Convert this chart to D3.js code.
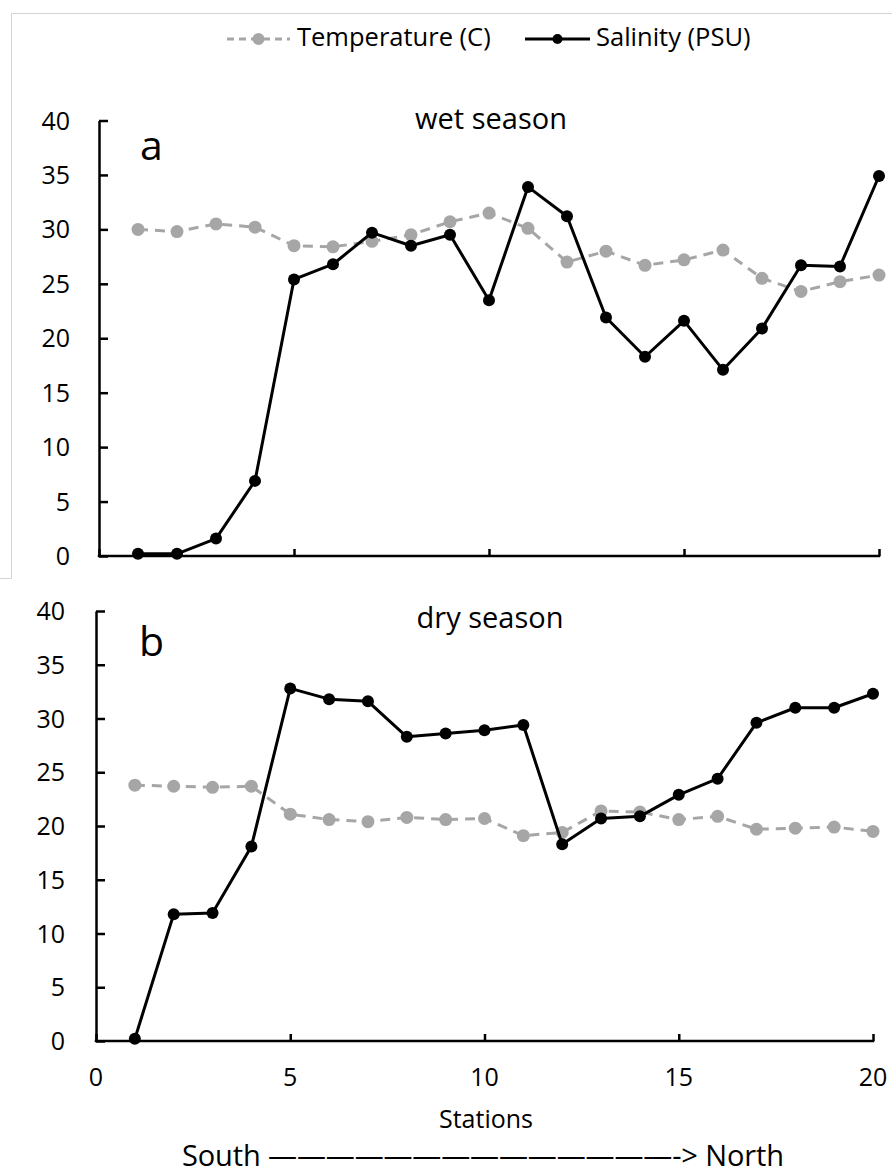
<!DOCTYPE html>
<html>
<head>
<meta charset="utf-8">
<script src="https://cdn.jsdelivr.net/npm/d3@7"></script>
<style>
  html, body { margin: 0; padding: 0; background: #fff; }
  svg { display: block; }
  text { font-family: "Open Sans", "DejaVu Sans", sans-serif; fill: #000; }
</style>
</head>
<body>
<svg id="chart" width="892" height="1174"></svg>
<script>
// Sampling stations, ordered south to north
const stations = d3.range(1, 21);

// Wet season profiles
const wetTemperature = [30.0, 29.8, 30.5, 30.2, 28.5, 28.4, 28.9, 29.5, 30.7, 31.5,
                        30.1, 27.0, 28.0, 26.7, 27.2, 28.1, 25.5, 24.3, 25.2, 25.8];
const wetSalinity    = [0.2, 0.2, 1.6, 6.9, 25.4, 26.8, 29.7, 28.5, 29.5, 23.5,
                        33.9, 31.2, 21.9, 18.3, 21.6, 17.1, 20.9, 26.7, 26.6, 34.9];

// Dry season profiles
const dryTemperature = [23.8, 23.7, 23.6, 23.7, 21.1, 20.6, 20.4, 20.8, 20.6, 20.7,
                        19.1, 19.4, 21.4, 21.3, 20.6, 20.9, 19.7, 19.8, 19.9, 19.5];
const drySalinity    = [0.2, 11.8, 11.9, 18.1, 32.8, 31.8, 31.6, 28.3, 28.6, 28.9,
                        29.4, 18.3, 20.7, 20.9, 22.9, 24.4, 29.6, 31.0, 31.0, 32.3];

// Axis ticks
const yTicks = [0, 5, 10, 15, 20, 25, 30, 35, 40];
const xTicks = [0, 5, 10, 15, 20];

const seriesNames = ["Temperature (C)", "Salinity (PSU)"];
const panelTitles = ["wet season", "dry season"];
const panelLetters = ["a", "b"];

const svg = d3.select("#chart");

// Frame lines of the upper chart area
svg.append("path")
  .attr("d", "M0,578.5 H11.5 V13.5 H892")
  .attr("fill", "none")
  .attr("stroke", "#d4d4d4")
  .attr("stroke-width", 1);

const styles = {
  temp: { stroke: "#a6a6a6", width: 3, dash: "10,7", r: 6.5 },
  sal:  { stroke: "#000000", width: 3, dash: null, r: 6 }
};

const panels = [
  { temp: wetTemperature, sal: wetSalinity, x0: 99, x1: 879, yTop: 120.5, yBot: 556,
    labelX: 70, xLabels: false, titleX: 491, titleY: 129, letterX: 140, letterY: 160 },
  { temp: dryTemperature, sal: drySalinity, x0: 96, x1: 873, yTop: 611, yBot: 1041,
    labelX: 65, xLabels: true, titleX: 490, titleY: 628, letterX: 139, letterY: 656 }
];

panels.forEach((p, i) => {
  const x = d3.scaleLinear().domain([0, 20]).range([p.x0, p.x1]);
  const y = d3.scaleLinear().domain([0, 40]).range([p.yBot, p.yTop]);
  const g = svg.append("g");

  // Y axis: ticks point inward
  const yAxis = g.append("g")
    .attr("transform", `translate(${p.x0},0)`)
    .call(d3.axisRight(y).tickValues(yTicks).tickSize(9).tickSizeOuter(0).tickFormat(""));
  yAxis.selectAll("path, line").attr("stroke", "#000").attr("stroke-width", 2.5);

  g.selectAll(".ylab").data(yTicks).join("text")
    .attr("x", p.labelX)
    .attr("y", d => y(d))
    .attr("dy", "0.36em")
    .attr("text-anchor", "end")
    .attr("font-size", 25)
    .text(d => d);

  // X axis: ticks point upward
  const xAxis = g.append("g")
    .attr("transform", `translate(0,${p.yBot})`)
    .call(d3.axisTop(x).tickValues(xTicks).tickSize(7).tickSizeOuter(0).tickFormat(""));
  xAxis.selectAll("path, line").attr("stroke", "#000").attr("stroke-width", 2.5);
  xAxis.select(".domain").attr("d", `M${p.x0 - 1.25},0H${p.x1 + 1.25}`);

  if (p.xLabels) {
    g.selectAll(".xlab").data(xTicks).join("text")
      .attr("x", d => x(d))
      .attr("y", p.yBot + 36)
      .attr("dy", "0.36em")
      .attr("text-anchor", "middle")
      .attr("font-size", 25)
      .text(d => d);
  }

  // Panel title and letter
  g.append("text")
    .attr("x", p.titleX).attr("y", p.titleY)
    .attr("text-anchor", "middle")
    .attr("font-size", 29)
    .text(panelTitles[i]);
  g.append("text")
    .attr("x", p.letterX).attr("y", p.letterY)
    .attr("font-family", "'Liberation Sans', Arial, sans-serif")
    .attr("font-size", 41)
    .text(panelLetters[i]);

  // Series lines and markers
  [["temp", p.temp], ["sal", p.sal]].forEach(([key, vals]) => {
    const s = styles[key];
    const line = d3.line().x((d, j) => x(stations[j])).y(d => y(d));
    g.append("path")
      .datum(vals)
      .attr("d", line)
      .attr("fill", "none")
      .attr("stroke", s.stroke)
      .attr("stroke-width", s.width)
      .attr("stroke-linejoin", "round")
      .attr("stroke-dasharray", s.dash);
    g.selectAll(".pt-" + key).data(vals).join("circle")
      .attr("cx", (d, j) => x(stations[j]))
      .attr("cy", d => y(d))
      .attr("r", s.r)
      .attr("fill", s.stroke);
  });
});

// Legend
const legendY = 39;
const legend = svg.append("g");
const legendItems = [
  { key: "temp", x0: 227, x1: 290, text: seriesNames[0], tx: 297 },
  { key: "sal",  x0: 525, x1: 590, text: seriesNames[1], tx: 596 }
];
legendItems.forEach(it => {
  const s = styles[it.key];
  legend.append("line")
    .attr("x1", it.x0).attr("x2", it.x1)
    .attr("y1", legendY).attr("y2", legendY)
    .attr("stroke", s.stroke)
    .attr("stroke-width", s.width)
    .attr("stroke-dasharray", it.key === "temp" ? "7,5" : null);
  legend.append("circle")
    .attr("cx", (it.x0 + it.x1) / 2).attr("cy", legendY)
    .attr("r", it.key === "temp" ? 6 : 5)
    .attr("fill", s.stroke);
  legend.append("text")
    .attr("x", it.tx).attr("y", 46)
    .attr("font-size", 25.5)
    .text(it.text);
});

// X axis title and orientation note
svg.append("text")
  .attr("x", 486).attr("y", 1128)
  .attr("text-anchor", "middle")
  .attr("font-size", 25)
  .text("Stations");

svg.append("text")
  .attr("x", 182).attr("y", 1166)
  .attr("font-family", "'Liberation Sans', Arial, sans-serif")
  .attr("font-size", 29)
  .attr("textLength", 602)
  .attr("lengthAdjust", "spacing")
  .text("South \u2014\u2014\u2014\u2014\u2014\u2014\u2014\u2014\u2014\u2014\u2014\u2014\u2014\u2014-> North");
</script>
</body>
</html>
